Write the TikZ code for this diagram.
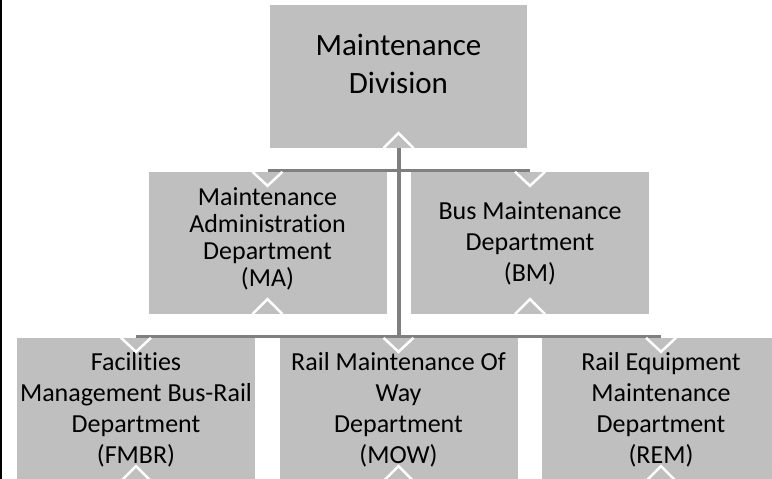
\documentclass[tikz,border=0pt]{standalone}
\usepackage{fontspec}
\setmainfont{Carlito}[Ligatures=NoCommon]
\definecolor{boxgray}{HTML}{BFBFBF}
\definecolor{linegray}{HTML}{7F7F7F}

\begin{document}
\begin{tikzpicture}[x=1pt, y=-1pt,
  unit/.style={fill=boxgray, inner sep=0pt, minimum width=238pt, minimum height=143pt,
    align=center, font=\fontsize{26}{31}\selectfont},
  link/.style={draw=linegray, line width=3pt},
  notch/.style={draw=white, line width=2.5pt}]

\useasboundingbox (0,0) rectangle (772,479);
\clip (0,0) rectangle (772,479);
\draw [line width=1.5pt] (0.75,0) -- (0.75,479);

\node [unit, minimum width=257pt, text depth=26pt, font=\fontsize{31}{38}\selectfont] (div) at (398.5,76.5) {Maintenance\\Division};

\node [unit, minimum height=142pt, text depth=12pt, font=\fontsize{26}{27}\selectfont] (ma) at (267.5,243) {Maintenance\\Administration\\Department\\(MA)};
\node [unit, minimum height=142pt] (bm) at (530,243) {Bus Maintenance\\Department\\(BM)};

\node [unit] (fmbr) at (136,409.5) {Facilities\\Management Bus-Rail\\Department\\(FMBR)};
\node [unit] (mow) at (398.5,409.5) {Rail Maintenance Of\\Way\\Department\\(MOW)};
\node [unit] (rem) at (661,409.5) {Rail Equipment\\Maintenance\\Department\\(REM)};

\draw [link, line width=4pt] (div.south) -- (mow.north);
\draw [link] ([yshift=1.5pt]ma.north) -- ([yshift=1.5pt]bm.north);
\draw [link] ([yshift=1.5pt]fmbr.north) -- ([yshift=1.5pt]rem.north);

\foreach \b in {div,ma,bm,fmbr,mow,rem}
  \draw [notch] ([xshift=-15pt]\b.south) -- ([yshift=15pt]\b.south) -- ([xshift=15pt]\b.south);
\foreach \b in {ma,bm,fmbr,mow,rem}
  \draw [notch] ([xshift=-15pt]\b.north) -- ([yshift=-14pt]\b.north) -- ([xshift=15pt]\b.north);
\end{tikzpicture}
\end{document}
